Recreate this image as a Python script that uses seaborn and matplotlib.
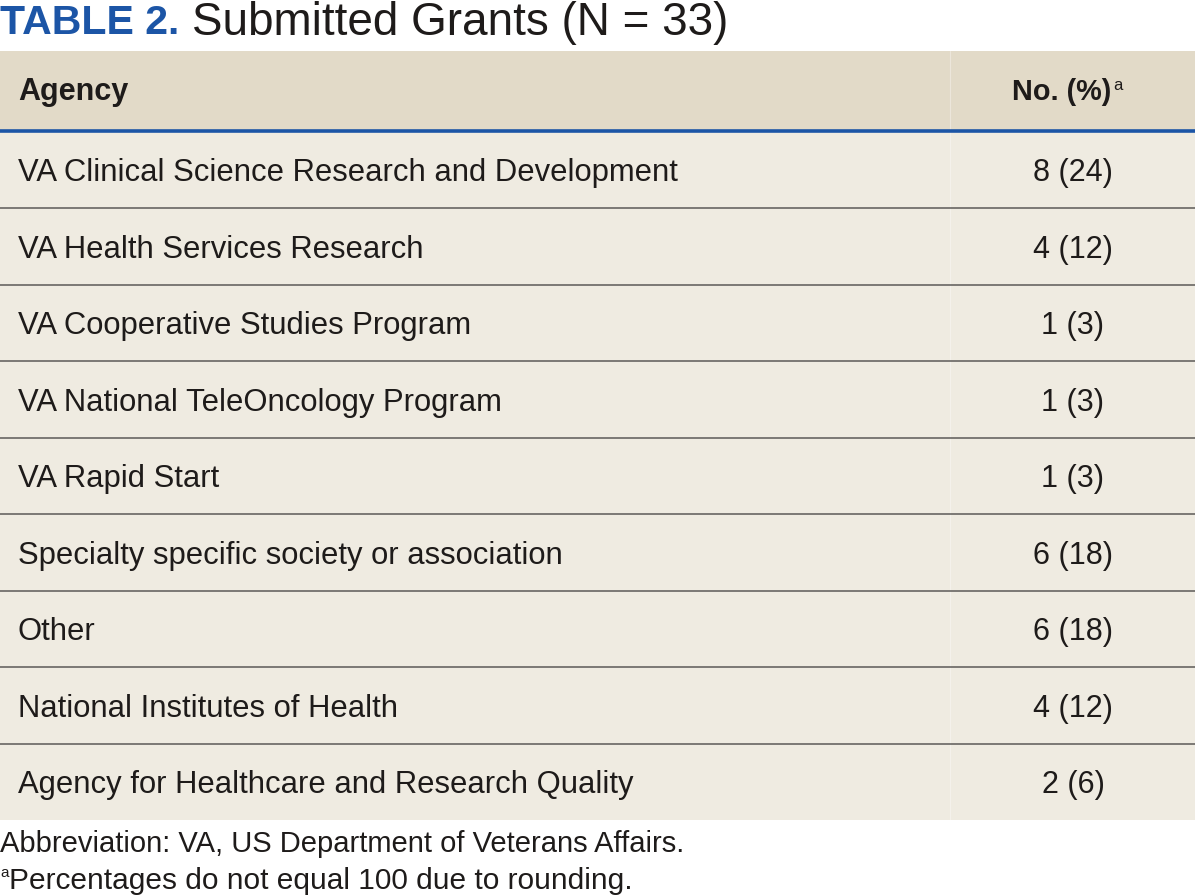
import numpy as np
import pandas as pd
import matplotlib
matplotlib.use("Agg")
import matplotlib.pyplot as plt
import seaborn as sns

# table content
agencies = [
    "VA Clinical Science Research and Development",
    "VA Health Services Research",
    "VA Cooperative Studies Program",
    "VA National TeleOncology Program",
    "VA Rapid Start",
    "Specialty specific society or association",
    "Other",
    "National Institutes of Health",
    "Agency for Healthcare and Research Quality",
]
counts = [8, 4, 1, 1, 1, 6, 6, 4, 2]
percents = [24, 12, 3, 3, 3, 18, 18, 12, 6]

title_bold = "TABLE 2."
title_rest = "Submitted Grants (N = 33)"
col_headers = ["Agency", "No. (%)"]
footnotes = ["Abbreviation: VA, US Department of Veterans Affairs.",
             "Percentages do not equal 100 due to rounding."]

BLUE = "#1c55a6"
HEAD_BG = "#e2dac8"
BODY_BG = "#efebe1"
RULE = "#5c5a57"
INK = "#1e1b1a"
FONT = ["Liberation Sans", "DejaVu Sans"]


def main():
    df = pd.DataFrame({"agency": agencies, "n": counts, "pct": percents})
    df["label"] = [f"{n} ({p})" for n, p in zip(df["n"], df["pct"])]

    sns.set_theme(style="white")
    plt.rcParams["font.family"] = FONT

    fig = plt.figure(figsize=(11.95, 8.96), dpi=100)
    ax = fig.add_axes([0, 0, 1, 1])
    ax.set_xlim(0, 1195)
    ax.set_ylim(896, 0)
    ax.axis("off")

    head_top, head_bot = 51, 131
    row_h = 76.5
    body_top = 132
    nrows = len(df)
    body_bot = body_top + nrows * row_h

    # backgrounds
    ax.axhspan(head_top, head_bot, color=HEAD_BG, lw=0)
    ax.axhspan(head_bot, body_bot, color=BODY_BG, lw=0)
    ax.plot([950, 950], [head_top, body_bot], color="white", lw=0.8, alpha=0.35)
    ax.plot([0, 1195], [head_bot, head_bot], color=BLUE, lw=2.6, solid_capstyle="butt")

    # rows
    ys = body_top + row_h * (np.arange(nrows) + 0.5)
    for i, row in df.iterrows():
        ax.text(18, ys[i] + 3, row["agency"], fontsize=22.3, color=INK,
                va="center", ha="left")
        ax.text(1073, ys[i] + 3, row["label"], fontsize=22.0, color=INK,
                va="center", ha="center")
        if i < nrows - 1:
            yl = body_top + row_h * (i + 1)
            ax.plot([0, 1195], [yl, yl], color=RULE, lw=1.1)

    # header
    hy = 92
    ax.text(18, hy, col_headers[0], fontsize=22.0, fontweight="bold",
            color=INK, va="center", ha="left")
    ax.text(1111, hy, col_headers[1], fontsize=20.8, fontweight="bold",
            color=INK, va="center", ha="right")
    ax.text(1113, hy - 6, "a", fontsize=12, color=INK, va="center", ha="left")

    # title
    t1 = ax.text(0, 23, title_bold, fontsize=29.5, fontweight="bold", color=BLUE,
                 va="center", ha="left")
    fig.canvas.draw()
    bb = t1.get_window_extent(renderer=fig.canvas.get_renderer())
    x_end = ax.transData.inverted().transform((bb.x1, bb.y0))[0]
    ax.text(x_end + 13, 23, title_rest, fontsize=33, color=INK,
            va="center", ha="left")

    # footnotes
    ax.text(0, 844, footnotes[0], fontsize=21.0, color=INK, va="center", ha="left")
    ax.text(0, 873, "a", fontsize=11, color=INK, va="center", ha="left")
    ax.text(9, 881, footnotes[1], fontsize=21.5, color=INK, va="center", ha="left")

    fig.savefig("out.png", dpi=100, facecolor="white")


if __name__ == '__main__':
    main()
